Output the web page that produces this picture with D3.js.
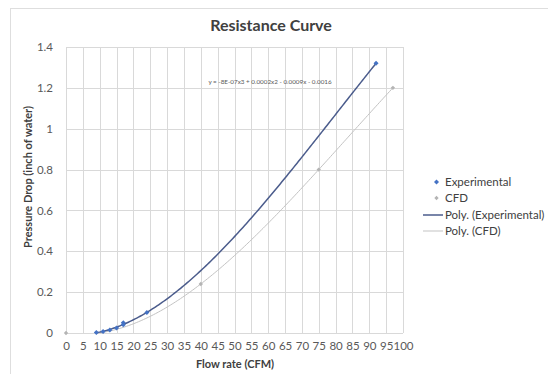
<!DOCTYPE html>
<html>
<head>
<meta charset="utf-8">
<script src="https://cdn.jsdelivr.net/npm/d3@7"></script>
<style>
  html, body { margin: 0; padding: 0; background: #fff; }
  svg { display: block; }
  text { font-family: Lato, "Open Sans", sans-serif; }
</style>
</head>
<body>
<svg id="chart" width="548" height="374"></svg>
<script>
// Measured flow rate (CFM) vs pressure drop (inch of water)
const expFlow = [9, 11, 13, 15, 17, 17, 24, 92];
const expDrop = [0.003, 0.007, 0.015, 0.025, 0.05, 0.04, 0.1, 1.32];
// CFD results
const cfdFlow = [0, 40, 75, 97];
const cfdDrop = [0, 0.24, 0.8, 1.2];

const xTicks = d3.range(0, 101, 5);
const yTicks = [0, 0.2, 0.4, 0.6, 0.8, 1, 1.2, 1.4];
const seriesNames = ["Experimental", "CFD", "Poly. (Experimental)", "Poly. (CFD)"];
const equationLabel = "y = -8E-07x3 + 0.0002x2 - 0.0009x - 0.0016";

// Least-squares polynomial fit, used for the trendlines
function polyFit(xs, ys, deg) {
  const n = deg + 1;
  const A = Array.from({length: n}, () => new Array(n + 1).fill(0));
  for (let k = 0; k < xs.length; k++) {
    for (let i = 0; i < n; i++) {
      for (let j = 0; j < n; j++) A[i][j] += Math.pow(xs[k], i + j);
      A[i][n] += ys[k] * Math.pow(xs[k], i);
    }
  }
  for (let c = 0; c < n; c++) {
    let p = c;
    for (let r = c + 1; r < n; r++) if (Math.abs(A[r][c]) > Math.abs(A[p][c])) p = r;
    [A[c], A[p]] = [A[p], A[c]];
    for (let r = 0; r < n; r++) {
      if (r === c) continue;
      const f = A[r][c] / A[c][c];
      for (let j = c; j <= n; j++) A[r][j] -= f * A[c][j];
    }
  }
  const coef = A.map((row, i) => row[n] / row[i]);
  return x => coef.reduce((s, a, i) => s + a * Math.pow(x, i), 0);
}

const svg = d3.select("#chart");
const plot = {left: 66, right: 403, top: 47, bottom: 333};

const x = d3.scaleLinear().domain([0, 100]).range([plot.left, plot.right]);
const y = d3.scaleLinear().domain([0, 1.4]).range([plot.bottom, plot.top]);

// chart area border
svg.append("rect")
  .attr("x", 10.5).attr("y", 8.5).attr("width", 560).attr("height", 400)
  .attr("fill", "none").attr("stroke", "#dedede");

// gridlines
svg.append("g").selectAll("line").data(xTicks).join("line")
  .attr("x1", d => Math.round(x(d)) + 0.5).attr("x2", d => Math.round(x(d)) + 0.5)
  .attr("y1", plot.top).attr("y2", plot.bottom)
  .attr("stroke", "#d9d9d9").attr("stroke-width", 1);
svg.append("g").selectAll("line").data(yTicks).join("line")
  .attr("x1", plot.left).attr("x2", plot.right)
  .attr("y1", d => Math.round(y(d)) + 0.5).attr("y2", d => Math.round(y(d)) + 0.5)
  .attr("stroke", "#d9d9d9").attr("stroke-width", 1);

// axes (labels only)
const xAxis = svg.append("g").attr("transform", `translate(0,${plot.bottom})`)
  .call(d3.axisBottom(x).tickValues(xTicks).tickSize(0).tickPadding(9).tickFormat(d3.format("d")));
const yAxis = svg.append("g").attr("transform", `translate(${plot.left},0)`)
  .call(d3.axisLeft(y).tickValues(yTicks).tickSize(0).tickPadding(13).tickFormat(d => d === 0 ? "0" : String(+d.toFixed(1))));
[xAxis, yAxis].forEach(g => {
  g.select(".domain").remove();
  g.selectAll("text").attr("fill", "#595959").style("font-size", "11.5px").style("font-family", "Lato, sans-serif");
});

// trendlines
const expFit = polyFit(expFlow, expDrop, 3);
const cfdFit = polyFit(cfdFlow, cfdDrop, 3);
const line = d3.line().x(d => x(d[0])).y(d => y(d[1]));
const sample = (f, a, b) => d3.range(a, b + 0.001, 0.5).map(v => [v, f(v)]).filter(p => p[1] >= 0);

svg.append("path").datum(sample(cfdFit, d3.min(cfdFlow), d3.max(cfdFlow)))
  .attr("d", line).attr("fill", "none").attr("stroke", "#c3c3c3").attr("stroke-width", 1);
svg.append("path").datum(sample(expFit, 0, d3.max(expFlow)))
  .attr("d", line).attr("fill", "none").attr("stroke", "#4b5c8c").attr("stroke-width", 1.5);

// markers (small square diamonds)
const diamond = d3.symbol().type(d3.symbolDiamond2 || d3.symbolCircle);
svg.append("g").selectAll("path").data(d3.zip(cfdFlow, cfdDrop)).join("path")
  .attr("transform", d => `translate(${x(d[0])},${y(d[1])})`)
  .attr("d", diamond.size(12)()).attr("fill", "#b4b4b4");
svg.append("g").selectAll("path").data(d3.zip(expFlow, expDrop)).join("path")
  .attr("transform", d => `translate(${x(d[0])},${y(d[1])})`)
  .attr("d", diamond.size(16)()).attr("fill", "#4472c4");

// trendline equation
svg.append("text").attr("x", 270).attr("y", 84).attr("text-anchor", "middle")
  .attr("fill", "#595959").style("font-size", "6.3px").text(equationLabel);

// title and axis titles
svg.append("text").attr("x", 271).attr("y", 31).attr("text-anchor", "middle")
  .attr("fill", "#404040").style("font-size", "16px").style("font-weight", "bold").text("Resistance Curve");
svg.append("text").attr("x", 235).attr("y", 368).attr("text-anchor", "middle")
  .attr("fill", "#404040").style("font-size", "11px").style("font-weight", "bold").text("Flow rate (CFM)");
svg.append("text").attr("transform", "translate(32,177) rotate(-90)").attr("text-anchor", "middle")
  .attr("fill", "#404040").style("font-size", "11px").style("font-weight", "bold").text("Pressure Drop (inch of water)");

// legend
const legend = svg.append("g");
const rowY = [182, 198, 215, 231];
seriesNames.forEach((name, i) => {
  const g = legend.append("g").attr("transform", `translate(0,${rowY[i]})`);
  if (i === 0) g.append("path").attr("transform", "translate(436.5,0)").attr("d", diamond.size(16)()).attr("fill", "#4472c4");
  if (i === 1) g.append("path").attr("transform", "translate(436.5,0)").attr("d", diamond.size(12)()).attr("fill", "#b4b4b4");
  if (i === 2) g.append("line").attr("x1", 423).attr("x2", 443).attr("stroke", "#4b5c8c").attr("stroke-width", 1.5);
  if (i === 3) g.append("line").attr("x1", 423).attr("x2", 443).attr("stroke", "#c3c3c3").attr("stroke-width", 1);
  g.append("text").attr("x", 445).attr("dy", "0.35em").attr("fill", "#404040")
    .style("font-size", "11.5px").text(name);
});
</script>
</body>
</html>
